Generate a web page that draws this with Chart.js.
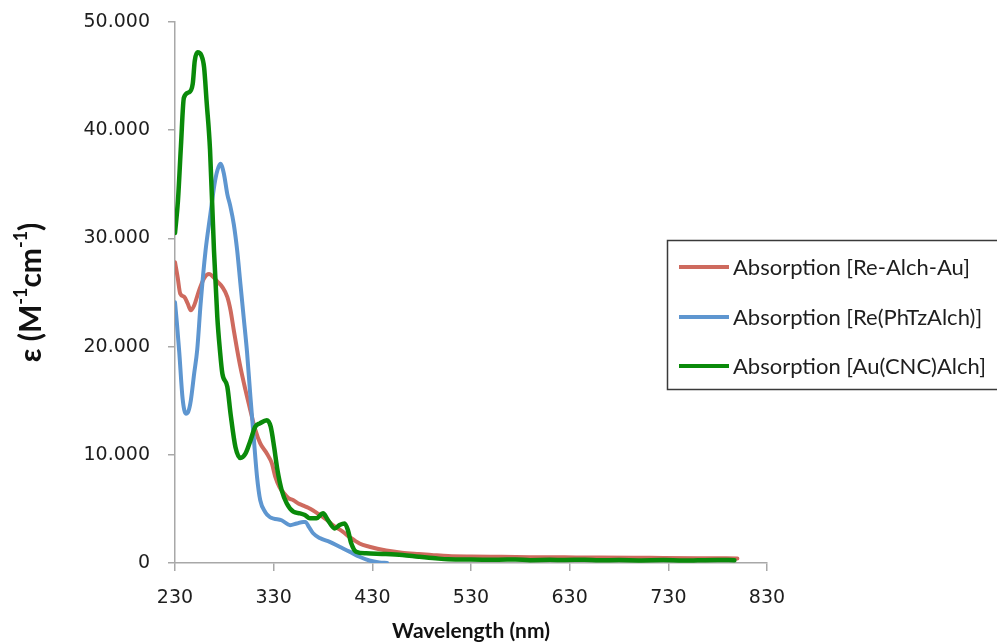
<!DOCTYPE html>
<html>
<head>
<meta charset="utf-8">
<title>UV-Vis absorption spectra</title>
<script src="https://cdn.jsdelivr.net/npm/chart.js@4.4.1/dist/chart.umd.min.js"></script>
<style>
  html, body { margin: 0; padding: 0; background: #ffffff; }
  #wrap { width: 997px; height: 644px; position: relative; }
</style>
</head>
<body>
<div id="wrap"><canvas id="spectra" width="997" height="644"></canvas></div>
<script>
// Series names
const seriesNames = [
  'Absorption [Re-Alch-Au]',
  'Absorption [Re(PhTzAlch)]',
  'Absorption [Au(CNC)Alch]'
];

// Re-Alch-Au: wavelength (nm) and molar absorptivity (M^-1 cm^-1)
const reAuWl  = [230, 232.7, 235.3, 239.3, 242.8, 246, 249.4, 254.4, 259.4, 264.5, 268, 273, 278, 283, 286.3, 289.6, 293, 296.3, 301.4, 306.4, 311.4, 316.4, 323.2, 328.2, 331.5, 336, 340, 345, 350, 355, 360, 365, 370, 375, 380, 385, 390, 395, 400, 407, 417, 427, 444, 460, 477, 490, 507, 530, 558, 590, 625, 660, 700, 725, 760, 800];
const reAuEps = [27800, 26400, 24900, 24600, 24000, 23350, 23800, 25200, 26300, 26700, 26500, 26000, 25500, 24600, 23350, 21500, 19700, 18100, 16000, 14100, 12300, 11050, 10100, 9200, 8000, 7000, 6500, 6000, 5800, 5500, 5300, 5100, 4850, 4550, 4250, 3900, 3500, 3200, 2900, 2400, 1800, 1500, 1150, 950, 830, 750, 650, 600, 570, 540, 520, 500, 480, 470, 450, 420];

// Re(PhTzAlch)
const rePhWl  = [230, 232, 234.3, 237.7, 241, 243.5, 246, 249.4, 252.5, 256, 261, 265.5, 270, 273, 276, 279.5, 283, 286, 289.6, 293, 296.3, 299.6, 303, 306.4, 309.7, 313.1, 316.4, 321.5, 326, 330, 338, 346.6, 353.3, 360, 362, 366, 370, 376.7, 386.8, 396.8, 406.9, 417, 427, 437, 445];
const rePhEps = [24100, 22100, 19500, 15200, 13800, 14000, 15000, 17500, 19700, 24000, 28900, 32000, 35000, 36300, 36900, 36000, 34100, 33000, 31300, 28900, 25800, 22700, 19500, 15400, 11700, 8000, 5800, 4700, 4250, 4100, 3950, 3500, 3650, 3800, 3800, 3300, 2750, 2300, 1950, 1500, 1050, 580, 230, 50, 0];

// Au(CNC)Alch
const auWl  = [230, 233, 236, 239, 244, 248, 250, 252.8, 256.8, 259.5, 262, 265.5, 269.5, 272.9, 275.5, 278, 283, 286.3, 291.3, 296.3, 301.4, 306.4, 311.4, 316, 323, 327, 330.5, 333.8, 338.2, 343.3, 349.9, 356.6, 361.7, 366.7, 373.4, 380, 385, 391.8, 396.8, 401.9, 405.2, 408.6, 413.6, 423.7, 443.8, 460.5, 477, 494, 507, 530, 558, 575, 590, 610, 625, 645, 660, 680, 700, 725, 745, 760, 780, 797];
const auEps = [30500, 33500, 38500, 43000, 43500, 44300, 46400, 47200, 46900, 45800, 42700, 38200, 28900, 22700, 19700, 17500, 16300, 13800, 10700, 9700, 10100, 11300, 12600, 12900, 13200, 12600, 10700, 8600, 6700, 5500, 4740, 4590, 4430, 4130, 4130, 4590, 3970, 3200, 3510, 3660, 3050, 1820, 1040, 890, 830, 740, 580, 430, 340, 320, 300, 330, 260, 290, 280, 300, 250, 270, 240, 270, 230, 250, 280, 260];

// Axis ticks
const xTicks = [230, 330, 430, 530, 630, 730, 830];
const yTicks = [0, 10000, 20000, 30000, 40000, 50000];

const colors = ['#CE6A5E', '#5E96D0', '#0A8A0A'];
const axisGrey = '#A8A8A8';

function toPoints(xs, ys) {
  return xs.map((x, i) => ({ x: x, y: ys[i] }));
}

// Boxed legend in the upper right, drawn over the plot area
const boxedLegend = {
  id: 'boxedLegend',
  afterDraw(chart) {
    const ctx = chart.ctx;
    ctx.save();
    ctx.strokeStyle = '#3a3a3a';
    ctx.lineWidth = 1.5;
    ctx.fillStyle = '#ffffff';
    ctx.fillRect(667.5, 240.5, 340, 149);
    ctx.strokeRect(667.5, 240.5, 340, 149);
    const rowsY = [267, 317, 366];
    ctx.font = '22px Lato';
    ctx.textBaseline = 'middle';
    ctx.textAlign = 'left';
    [0, 1, 2].forEach((di, r) => {
      const ds = chart.data.datasets[di];
      ctx.strokeStyle = ds.borderColor;
      ctx.lineWidth = 4;
      ctx.lineCap = 'butt';
      ctx.beginPath();
      ctx.moveTo(679, rowsY[r]);
      ctx.lineTo(729, rowsY[r]);
      ctx.stroke();
      ctx.fillStyle = '#1e1e1e';
      ctx.fillText(ds.label, 733, rowsY[r] + 1);
    });
    ctx.restore();
  }
};

// Rotated y-axis title with superscripted exponents
const yTitle = {
  id: 'yTitle',
  afterDraw(chart) {
    const ctx = chart.ctx;
    const parts = [
      { t: 'ε (M', sup: false },
      { t: '-1', sup: true },
      { t: 'cm', sup: false },
      { t: '-1', sup: true },
      { t: ')', sup: false }
    ];
    const big = 'bold 30px Lato';
    const small = 'bold 18px Lato';
    ctx.save();
    let total = 0;
    parts.forEach(p => { ctx.font = p.sup ? small : big; p.w = ctx.measureText(p.t).width; total += p.w; });
    const cy = (chart.chartArea.top + chart.chartArea.bottom) / 2;
    ctx.translate(31, cy);
    ctx.rotate(-Math.PI / 2);
    ctx.fillStyle = '#111111';
    ctx.textBaseline = 'middle';
    ctx.textAlign = 'left';
    let x = -total / 2;
    parts.forEach(p => {
      ctx.font = p.sup ? small : big;
      ctx.fillText(p.t, x, p.sup ? -10 : 0);
      x += p.w;
    });
    ctx.restore();
  }
};

new Chart(document.getElementById('spectra'), {
  type: 'line',
  data: {
    datasets: [
      { label: seriesNames[0], data: toPoints(reAuWl, reAuEps), borderColor: colors[0], borderWidth: 4, order: 2 },
      { label: seriesNames[1], data: toPoints(rePhWl, rePhEps), borderColor: colors[1], borderWidth: 4, order: 1 },
      { label: seriesNames[2], data: toPoints(auWl, auEps), borderColor: colors[2], borderWidth: 4.5, order: 0 }
    ]
  },
  options: {
    responsive: false,
    animation: false,
    elements: {
      point: { radius: 0, hoverRadius: 0 },
      line: { cubicInterpolationMode: 'monotone', fill: false, borderJoinStyle: 'round', borderCapStyle: 'round' }
    },
    layout: { padding: { top: 22, right: 230, bottom: 0, left: 0 } },
    plugins: { legend: { display: false }, tooltip: { enabled: false } },
    scales: {
      x: {
        type: 'linear',
        min: 230,
        max: 830,
        afterBuildTicks(scale) { scale.ticks = xTicks.map(v => ({ value: v })); },
        ticks: {
          font: { family: 'DejaVu Sans', size: 19 },
          color: '#1e1e1e',
          padding: 16,
          maxRotation: 0
        },
        grid: { drawOnChartArea: false, drawTicks: true, tickLength: 8, color: axisGrey, lineWidth: 1.5 },
        border: { display: true, color: axisGrey, width: 1.5 },
        title: {
          display: true,
          text: 'Wavelength (nm)',
          font: { family: 'Lato', weight: 'bold', size: 21 },
          color: '#111111',
          padding: { top: 0, bottom: 0 }
        },
        afterFit(scale) { scale.height = 81; scale.paddingLeft = 0; scale.paddingRight = 0; }
      },
      y: {
        type: 'linear',
        min: 0,
        max: 50000,
        afterBuildTicks(scale) { scale.ticks = yTicks.map(v => ({ value: v })); },
        ticks: {
          font: { family: 'DejaVu Sans', size: 19 },
          color: '#1e1e1e',
          padding: 18,
          callback: v => v === 0 ? '0' : (v / 1000).toFixed(3)
        },
        grid: { drawOnChartArea: false, drawTicks: true, tickLength: 7, color: axisGrey, lineWidth: 1.5 },
        border: { display: true, color: axisGrey, width: 1.5 },
        afterFit(scale) { scale.width = 175; scale.paddingTop = 0; scale.paddingBottom = 0; }
      }
    }
  },
  plugins: [yTitle, boxedLegend]
});
</script>
</body>
</html>
